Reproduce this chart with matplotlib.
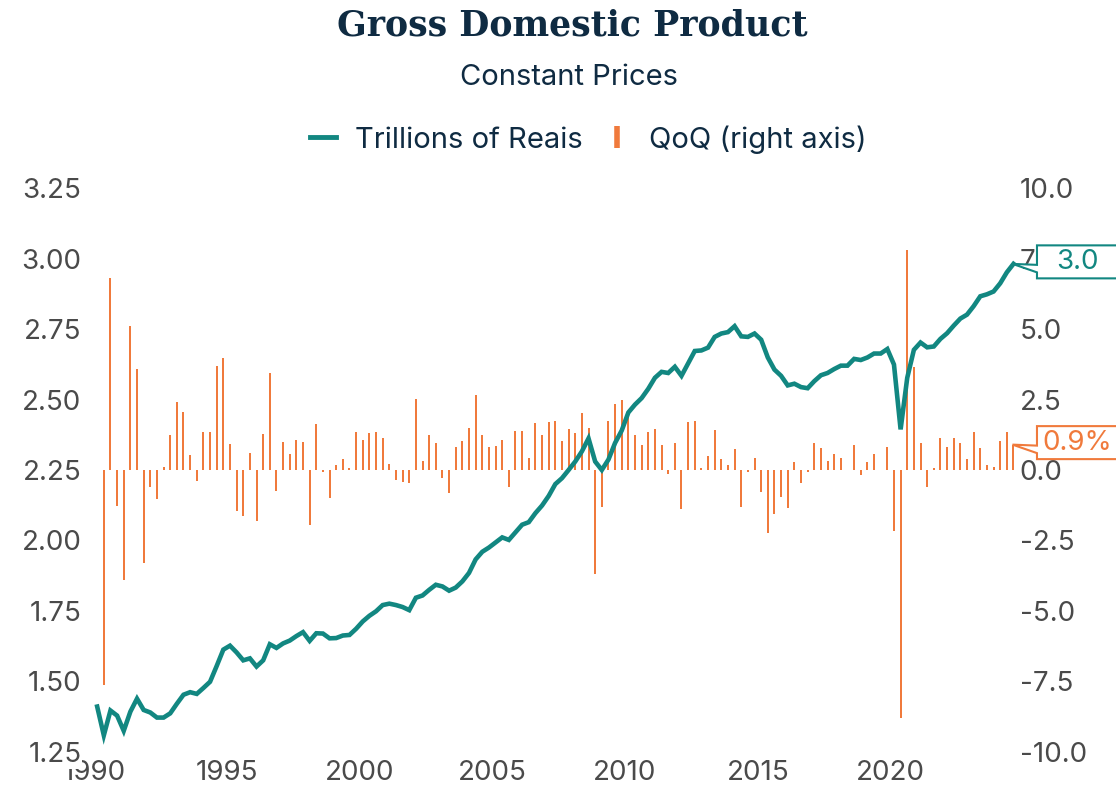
#!/usr/bin/env python3
"""
Brazil GDP at constant prices: level (left axis) and QoQ change (right axis).
"""

import matplotlib

matplotlib.use("Agg")

import matplotlib.pyplot as plt
import matplotlib.transforms as mtransforms
import numpy as np
import pandas as pd
from matplotlib.lines import Line2D
from matplotlib.patches import Polygon

# ---- data ----
first_quarter = "1990Q1"
last_quarter = "2024Q3"

gdp_trillions = [
    1.411, 1.309, 1.397, 1.379, 1.325, 1.393, 1.439, 1.399, 1.390, 1.372,
    1.372, 1.387, 1.421, 1.453, 1.462, 1.456, 1.477, 1.499, 1.555, 1.613,
    1.627, 1.603, 1.575, 1.582, 1.553, 1.575, 1.632, 1.619, 1.635, 1.645,
    1.661, 1.675, 1.644, 1.671, 1.670, 1.653, 1.654, 1.663, 1.665, 1.687,
    1.713, 1.733, 1.749, 1.771, 1.776, 1.771, 1.764, 1.753, 1.797, 1.805,
    1.825, 1.843, 1.837, 1.822, 1.833, 1.855, 1.885, 1.933, 1.960, 1.975,
    1.993, 2.011, 2.002, 2.029, 2.056, 2.065, 2.097, 2.124, 2.158, 2.200,
    2.221, 2.250, 2.280, 2.316, 2.362, 2.280, 2.250, 2.287, 2.346, 2.390,
    2.454, 2.482, 2.505, 2.538, 2.577, 2.598, 2.594, 2.616, 2.584, 2.628,
    2.672, 2.674, 2.684, 2.722, 2.734, 2.739, 2.760, 2.724, 2.722, 2.734,
    2.712, 2.649, 2.606, 2.584, 2.550, 2.556, 2.544, 2.540, 2.565, 2.586,
    2.594, 2.608, 2.620, 2.620, 2.644, 2.640, 2.649, 2.663, 2.663, 2.679,
    2.624, 2.394, 2.577, 2.676, 2.702, 2.685, 2.688, 2.715, 2.735, 2.762,
    2.787, 2.801, 2.831, 2.866, 2.873, 2.883, 2.912, 2.951, 2.981,
]

qoq_pct = [
    np.nan,
    -7.62, 6.82, -1.28, -3.90, 5.11, 3.58, -3.30, -0.59, -1.04, 0.10,
    1.24, 2.40, 2.04, 0.52, -0.40, 1.33, 1.33, 3.68, 3.96, 0.91,
    -1.45, -1.64, 0.60, -1.80, 1.26, 3.44, -0.74, 1.00, 0.55, 1.06,
    1.01, -1.96, 1.62, -0.08, -0.98, 0.16, 0.40, 0.08, 1.36, 1.08,
    1.32, 1.36, 1.12, 0.22, -0.35, -0.42, -0.47, 2.53, 0.32, 1.24,
    0.96, -0.30, -0.80, 0.83, 1.02, 1.48, 2.65, 1.24, 0.80, 0.85,
    1.07, -0.59, 1.37, 1.38, 0.42, 1.66, 1.24, 1.70, 1.75, 1.02,
    1.44, 1.32, 2.02, 1.48, -3.68, -1.31, 1.75, 2.34, 2.48, 1.98,
    1.24, 0.88, 1.36, 1.44, 0.90, -0.14, 0.94, -1.40, 1.70, 1.74,
    0.06, 0.48, 1.42, 0.40, 0.18, 0.73, -1.31, -0.08, 0.42, -0.78,
    -2.24, -1.55, -0.95, -1.34, 0.28, -0.47, -0.08, 0.94, 0.78, 0.31,
    0.58, 0.44, 0.01, 0.90, -0.17, 0.28, 0.58, 0.01, 0.80, -2.18,
    -8.78, 7.81, 3.67, 0.96, -0.60, 0.08, 1.14, 0.83, 1.14, 0.96,
    0.38, 1.34, 0.77, 0.18, 0.12, 1.02, 1.34, 0.90,
]

year_ticks = [1990, 1995, 2000, 2005, 2010, 2015, 2020]
left_ticks = [1.25, 1.50, 1.75, 2.00, 2.25, 2.50, 2.75, 3.00, 3.25]
right_ticks = [-10.0, -7.5, -5.0, -2.5, 0.0, 2.5, 5.0, 7.5, 10.0]

title = "Gross Domestic Product"
subtitle = "Constant Prices"
line_label = "Trillions of Reais"
bar_label = "QoQ (right axis)"

TEAL = "#128781"
ORANGE = "#f07a3c"
NAVY = "#0f2b42"
GREY = "#4a4a4a"
SANS = ["Inter", "DejaVu Sans"]


def callout(ax, x, y, text, color, fig):
    """Highcharts-like callout: white box with a pointer to (x, y) in data coords."""
    trans = fig.dpi_scale_trans + mtransforms.ScaledTranslation(x, y, ax.transData)
    px = 1.0 / fig.dpi
    verts = np.array([
        (23.5, 18.5), (140, 18.5), (140, -14.5), (23.5, -14.5),
        (23.5, -8.5), (-1, 0), (23.5, -1),
    ]) * px
    ax.add_patch(Polygon(verts, closed=True, transform=trans, facecolor="white",
                         edgecolor=color, linewidth=1.5, clip_on=False, zorder=10))
    ax.annotate(text, xy=(x, y), xycoords="data", xytext=(64, 2),
                textcoords="offset pixels", ha="center", va="center",
                fontsize=20, color=color, family=SANS, zorder=11,
                annotation_clip=False)


def main() -> int:
    quarters = pd.period_range(first_quarter, last_quarter, freq="Q")
    x = quarters.year + (quarters.quarter - 1) / 4 + 0.125
    x = np.asarray(x, dtype=float)
    gdp = np.asarray(gdp_trillions, dtype=float)
    qoq = np.asarray(qoq_pct, dtype=float)

    plt.rcParams["font.family"] = SANS

    fig = plt.figure(figsize=(11.16, 7.87), dpi=100)
    ax = fig.add_axes([0.0841, 0.0445, 0.8282, 0.7166])
    ax2 = ax.twinx()

    ax2.bar(x, qoq, width=0.075, color=ORANGE, zorder=2)
    ax.plot(x, gdp, color=TEAL, linewidth=3.3, solid_joinstyle="miter", zorder=3)

    ax.set_zorder(ax2.get_zorder() + 1)
    ax.patch.set_visible(False)

    ax.set_xlim(1990.0, 2024.8)
    ax.set_ylim(1.25, 3.25)
    ax2.set_ylim(-10, 10)

    ax.set_xticks(year_ticks)
    ax.set_xticklabels([str(y) for y in year_ticks])
    ax.set_yticks(left_ticks)
    ax.set_yticklabels([f"{v:.2f}" for v in left_ticks])
    ax2.set_yticks(right_ticks)
    ax2.set_yticklabels([f"{v:.1f}" for v in right_ticks])

    for a in (ax, ax2):
        for s in a.spines.values():
            s.set_visible(False)
        a.tick_params(length=0, labelsize=20, labelcolor=GREY)
    ax.tick_params(axis="x", pad=6)
    ax.tick_params(axis="y", pad=9)
    ax2.tick_params(axis="y", pad=1)
    # the left labels sit on white, as in the reference where "1.25" hides part of "1990"
    for lbl in ax.get_yticklabels():
        lbl.set_bbox(dict(facecolor="white", edgecolor="none", pad=0.5))

    # title, subtitle, legend
    fig.text(0.5125, 0.967, title, ha="center", va="center", fontsize=25,
             fontweight="bold", family=["DejaVu Serif"], color=NAVY)
    fig.text(0.5099, 0.901, subtitle, ha="center", va="center", fontsize=21,
             color=NAVY)

    handles = [
        Line2D([], [], color=TEAL, linewidth=3.5),
        Line2D([], [], color=ORANGE, marker="|", linestyle="None",
               markersize=16, markeredgewidth=4),
    ]
    fig.legend(handles, [line_label, bar_label], loc="center",
               bbox_to_anchor=(0.527, 0.823), ncol=2, frameon=False,
               fontsize=21, labelcolor=NAVY, handlelength=0.9,
               handletextpad=0.65, columnspacing=0.7)

    # last-value callouts
    callout(ax, x[-1], gdp[-1], f"{gdp[-1]:.1f}", TEAL, fig)
    callout(ax2, x[-1], qoq[-1], f"{qoq[-1]:.1f}%", ORANGE, fig)

    fig.savefig("out.png", dpi=100)
    plt.close(fig)
    return 0


if __name__ == "__main__":
    raise SystemExit(main())
